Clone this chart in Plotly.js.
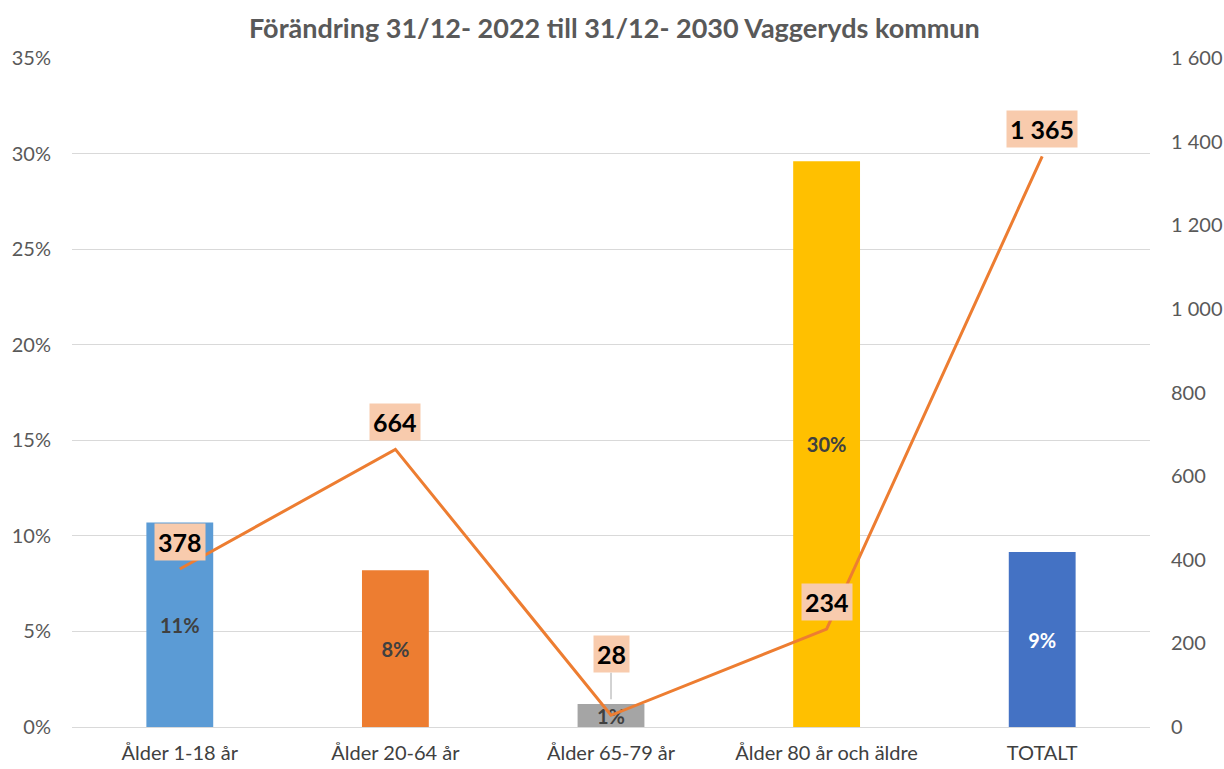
<!DOCTYPE html>
<html>
<head>
<meta charset="utf-8">
<script src="https://cdn.plot.ly/plotly-3.0.1.min.js"></script>
<style>html,body{margin:0;padding:0;background:#fff;}#chart{width:1224px;height:769px;}</style>
</head>
<body>
<div id="chart"></div>
<script>
const categories = ["Ålder 1-18 år", "Ålder 20-64 år", "Ålder 65-79 år", "Ålder 80 år och äldre", "TOTALT"];
const pctChange = [0.107, 0.082, 0.012, 0.296, 0.0915];
const pctLabels = ["11%", "8%", "1%", "30%", "9%"];
const countChange = [378, 664, 28, 234, 1365];
const countLabels = ["378", "664", "28", "234", "1 365"];
const barColors = ["#5B9BD5", "#ED7D31", "#A5A5A5", "#FFC000", "#4472C4"];
const barTextColors = ["#404040", "#404040", "#404040", "#404040", "#FFFFFF"];

const FONT = "Lato, Open Sans, sans-serif";

const bars = {
  type: "bar",
  x: categories,
  y: pctChange,
  text: pctLabels,
  textposition: "inside",
  insidetextanchor: "middle",
  constraintext: "none",
  textfont: {family: FONT, size: 20, color: barTextColors, weight: "bold"},
  marker: {color: barColors},
  width: 0.31,
  hoverinfo: "skip",
  yaxis: "y"
};

const line = {
  type: "scatter",
  mode: "lines",
  x: categories,
  y: countChange,
  line: {color: "#ED7D31", width: 3},
  yaxis: "y2",
  hoverinfo: "skip"
};

const annotations = categories.map((c, i) => {
  const special = i === 2;
  const a = {
    x: c, y: countChange[i], xref: "x", yref: "y2",
    text: "<b>" + countLabels[i] + "</b>",
    font: {family: FONT, size: 25, color: "#000000"},
    bgcolor: "#F8CBAD",
    borderpad: 3,
    showarrow: false,
    yshift: 27
  };
  if (special) {
    a.showarrow = true;
    a.ax = 0; a.ay = -61;
    a.arrowhead = 0; a.arrowwidth = 1; a.arrowcolor = "#A6A6A6";
    a.standoff = 16;
    delete a.yshift;
  }
  return a;
});

const layout = {
  width: 1224, height: 769,
  margin: {l: 72, r: 74, t: 58, b: 42},
  paper_bgcolor: "#FFFFFF", plot_bgcolor: "#FFFFFF",
  separators: ", ",
  showlegend: false,
  title: {
    text: "<b>Förändring 31/12- 2022 till 31/12- 2030 Vaggeryds kommun</b>",
    font: {family: FONT, size: 27, color: "#595959"},
    x: 0.502, xanchor: "center", y: 0.963, yanchor: "middle"
  },
  xaxis: {
    tickfont: {family: FONT, size: 20, color: "#404040"},
    showgrid: false, showline: false, zeroline: false, ticks: "",
    ticklabelstandoff: 12
  },
  yaxis: {
    range: [0, 0.35], dtick: 0.05, tickformat: ".0%",
    gridcolor: "#D9D9D9", gridwidth: 1,
    zeroline: true, zerolinecolor: "#D9D9D9", zerolinewidth: 1,
    showline: false, ticks: "",
    tickfont: {family: FONT, size: 20, color: "#595959"},
    ticklabelstandoff: 20
  },
  yaxis2: {
    overlaying: "y", side: "right",
    range: [0, 1600], dtick: 200, separatethousands: true, tickformat: ",d",
    showgrid: false, zeroline: false, showline: false, ticks: "",
    tickfont: {family: FONT, size: 20, color: "#595959"},
    ticklabelstandoff: 20
  },
  annotations: annotations
};

Plotly.newPlot("chart", [bars, line], layout, {displayModeBar: false, staticPlot: true});
</script>
</body>
</html>
